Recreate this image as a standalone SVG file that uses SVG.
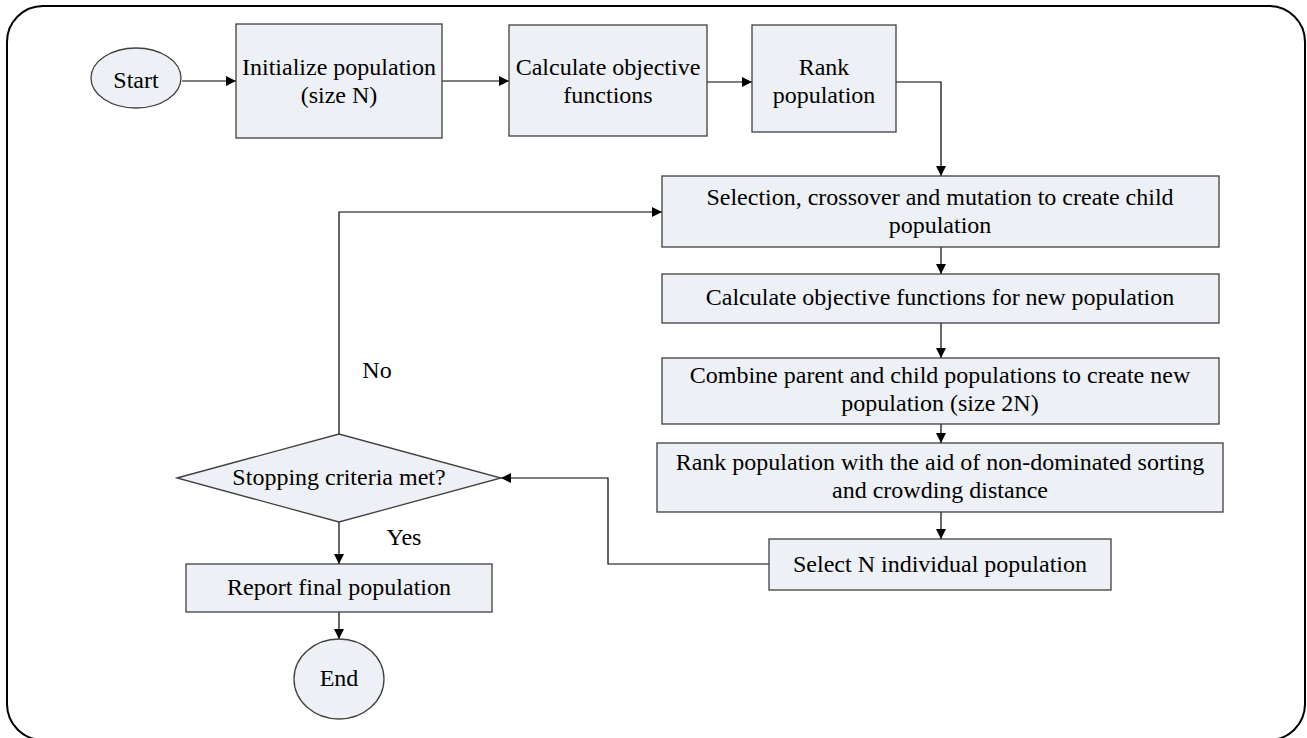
<svg xmlns="http://www.w3.org/2000/svg" width="1307" height="738" viewBox="0 0 1307 738">
<style>
.n{fill:#edf0f5;stroke:#404040;stroke-width:1.3}
.t{font-family:"Liberation Serif","Times New Roman",serif;font-size:24px;fill:#000;text-anchor:middle}
.c{fill:none;stroke:#000;stroke-width:1.2}
</style>
<defs>
<marker id="a" viewBox="0 0 10 10" refX="10" refY="5" markerWidth="10" markerHeight="10" markerUnits="userSpaceOnUse" orient="auto">
<path d="M0,0 L10,5 L0,10 z" fill="#000"/>
</marker>
</defs>
<rect x="7" y="6" width="1298" height="734" rx="36" ry="36" fill="#fff" stroke="#000" stroke-width="2"/>
<g id="connectors">
<path class="c" d="M182,81 H236" marker-end="url(#a)"/>
<path class="c" d="M442,81 H509" marker-end="url(#a)"/>
<path class="c" d="M707,82 H752" marker-end="url(#a)"/>
<path class="c" d="M896,82 H941 V176" marker-end="url(#a)"/>
<path class="c" d="M941,247 V274" marker-end="url(#a)"/>
<path class="c" d="M941,323 V358" marker-end="url(#a)"/>
<path class="c" d="M941,424 V443" marker-end="url(#a)"/>
<path class="c" d="M941,512 V539" marker-end="url(#a)"/>
<path class="c" d="M769,564 H608 V478 H501" marker-end="url(#a)"/>
<path class="c" d="M339,434 V212 H662" marker-end="url(#a)"/>
<path class="c" d="M339,522 V564" marker-end="url(#a)"/>
<path class="c" d="M339,612 V639" marker-end="url(#a)"/>
</g>
<g id="start">
<ellipse class="n" cx="136" cy="78" rx="45" ry="30"/>
<text class="t" x="136" y="88">Start</text>
</g>
<g id="init">
<rect class="n" x="236" y="24" width="206" height="114"/>
<text class="t" x="339" y="75">Initialize population</text>
<text class="t" x="339" y="103">(size N)</text>
</g>
<g id="calc">
<rect class="n" x="509" y="25" width="198" height="111"/>
<text class="t" x="608" y="75">Calculate objective</text>
<text class="t" x="608" y="103">functions</text>
</g>
<g id="rank">
<rect class="n" x="752" y="25" width="144" height="107"/>
<text class="t" x="824" y="75">Rank</text>
<text class="t" x="824" y="103">population</text>
</g>
<g id="selection">
<rect class="n" x="662" y="176" width="557" height="71"/>
<text class="t" x="940" y="205">Selection, crossover and mutation to create child</text>
<text class="t" x="940" y="233">population</text>
</g>
<g id="calcnew">
<rect class="n" x="662" y="274" width="557" height="49"/>
<text class="t" x="940" y="305">Calculate objective functions for new population</text>
</g>
<g id="combine">
<rect class="n" x="662" y="358" width="557" height="66"/>
<text class="t" x="940" y="383">Combine parent and child populations to create new</text>
<text class="t" x="940" y="411">population (size 2N)</text>
</g>
<g id="rankaid">
<rect class="n" x="657" y="443" width="566" height="69"/>
<text class="t" x="940" y="470">Rank population with the aid of non-dominated sorting</text>
<text class="t" x="940" y="498">and crowding distance</text>
</g>
<g id="selectn">
<rect class="n" x="769" y="539" width="342" height="51"/>
<text class="t" x="940" y="572">Select N individual population</text>
</g>
<g id="decision">
<polygon class="n" points="177,478 339,434 501,478 339,522"/>
<text class="t" x="339" y="485">Stopping criteria met?</text>
</g>
<g id="report">
<rect class="n" x="186" y="564" width="306" height="48"/>
<text class="t" x="339" y="595">Report final population</text>
</g>
<g id="end">
<ellipse class="n" cx="339" cy="679" rx="45" ry="40"/>
<text class="t" x="339" y="686">End</text>
</g>
<g id="labels">
<text class="t" x="377" y="378">No</text>
<text class="t" x="404" y="545">Yes</text>
</g>
</svg>
